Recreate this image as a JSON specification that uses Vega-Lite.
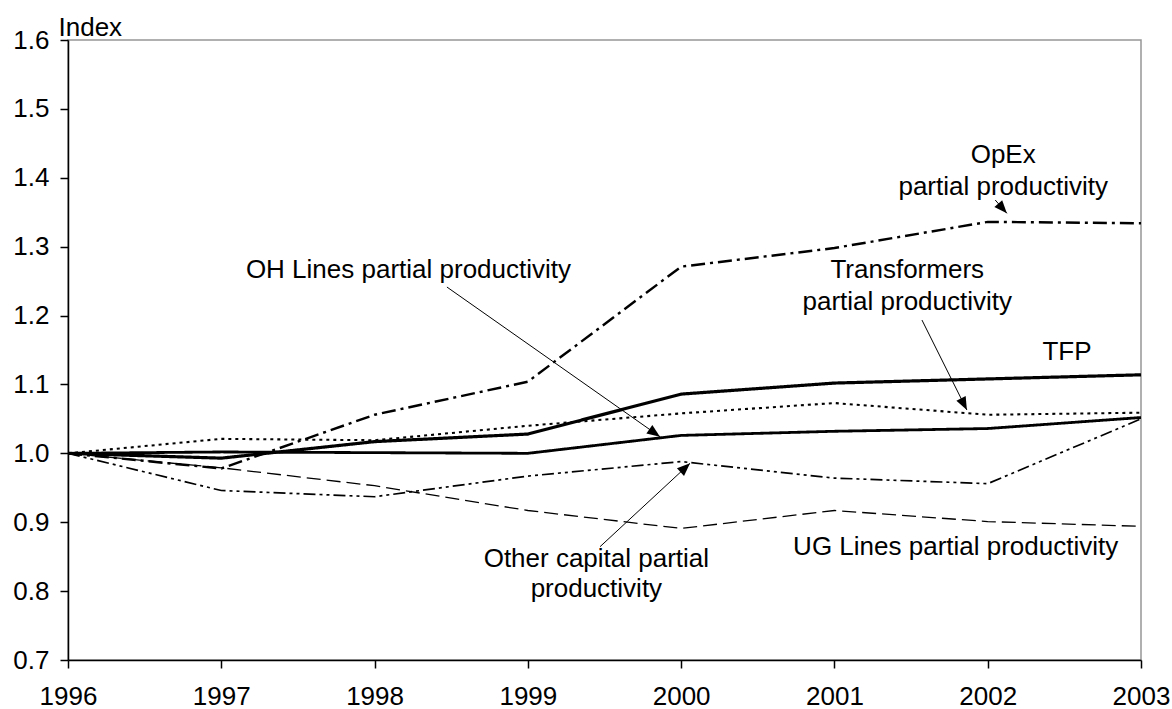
{
  "$schema": "https://vega.github.io/schema/vega-lite/v6.json",
  "width": 1073,
  "height": 620,
  "autosize": {"type": "none"},
  "padding": {"left": 68, "top": 40, "right": 31, "bottom": 49},
  "background": "white",
  "config": {
    "view": {"stroke": "#969696", "strokeWidth": 1.5},
    "font": "Liberation Sans",
    "axis": {
      "labelFont": "Liberation Sans",
      "labelFontSize": 26,
      "labelColor": "black",
      "domainColor": "black",
      "domainWidth": 1.5,
      "tickColor": "black",
      "tickWidth": 1.5,
      "tickSize": 8,
      "grid": false
    }
  },
  "datasets": {
    "series": [
      {"year": 1996, "series": "TFP", "value": 1.000},
      {"year": 1997, "series": "TFP", "value": 0.993},
      {"year": 1998, "series": "TFP", "value": 1.017},
      {"year": 1999, "series": "TFP", "value": 1.028},
      {"year": 2000, "series": "TFP", "value": 1.086},
      {"year": 2001, "series": "TFP", "value": 1.102},
      {"year": 2002, "series": "TFP", "value": 1.108},
      {"year": 2003, "series": "TFP", "value": 1.114},
      {"year": 1996, "series": "OH Lines", "value": 1.000},
      {"year": 1997, "series": "OH Lines", "value": 1.002},
      {"year": 1998, "series": "OH Lines", "value": 1.001},
      {"year": 1999, "series": "OH Lines", "value": 1.000},
      {"year": 2000, "series": "OH Lines", "value": 1.026},
      {"year": 2001, "series": "OH Lines", "value": 1.032},
      {"year": 2002, "series": "OH Lines", "value": 1.036},
      {"year": 2003, "series": "OH Lines", "value": 1.052},
      {"year": 1996, "series": "OpEx", "value": 1.000},
      {"year": 1997, "series": "OpEx", "value": 0.978},
      {"year": 1998, "series": "OpEx", "value": 1.056},
      {"year": 1999, "series": "OpEx", "value": 1.104},
      {"year": 2000, "series": "OpEx", "value": 1.271},
      {"year": 2001, "series": "OpEx", "value": 1.298},
      {"year": 2002, "series": "OpEx", "value": 1.336},
      {"year": 2003, "series": "OpEx", "value": 1.334},
      {"year": 1996, "series": "Transformers", "value": 1.000},
      {"year": 1997, "series": "Transformers", "value": 1.021},
      {"year": 1998, "series": "Transformers", "value": 1.019},
      {"year": 1999, "series": "Transformers", "value": 1.040},
      {"year": 2000, "series": "Transformers", "value": 1.058},
      {"year": 2001, "series": "Transformers", "value": 1.073},
      {"year": 2002, "series": "Transformers", "value": 1.056},
      {"year": 2003, "series": "Transformers", "value": 1.059},
      {"year": 1996, "series": "Other capital", "value": 1.000},
      {"year": 1997, "series": "Other capital", "value": 0.946},
      {"year": 1998, "series": "Other capital", "value": 0.937},
      {"year": 1999, "series": "Other capital", "value": 0.967},
      {"year": 2000, "series": "Other capital", "value": 0.988},
      {"year": 2001, "series": "Other capital", "value": 0.964},
      {"year": 2002, "series": "Other capital", "value": 0.956},
      {"year": 2003, "series": "Other capital", "value": 1.050},
      {"year": 1996, "series": "UG Lines", "value": 1.000},
      {"year": 1997, "series": "UG Lines", "value": 0.979},
      {"year": 1998, "series": "UG Lines", "value": 0.953},
      {"year": 1999, "series": "UG Lines", "value": 0.917},
      {"year": 2000, "series": "UG Lines", "value": 0.891},
      {"year": 2001, "series": "UG Lines", "value": 0.917},
      {"year": 2002, "series": "UG Lines", "value": 0.901},
      {"year": 2003, "series": "UG Lines", "value": 0.894}
    ],
    "labels": [
      {"label": "OH Lines partial productivity", "x": 1998.221, "y": 1.254},
      {"label": "OpEx", "x": 2002.101, "y": 1.421},
      {"label": "partial productivity", "x": 2002.101, "y": 1.375},
      {"label": "Transformers", "x": 2001.475, "y": 1.254},
      {"label": "partial productivity", "x": 2001.475, "y": 1.208},
      {"label": "TFP", "x": 2002.517, "y": 1.1355},
      {"label": "Other capital partial", "x": 1999.447, "y": 0.835},
      {"label": "productivity", "x": 1999.447, "y": 0.791},
      {"label": "UG Lines partial productivity", "x": 2001.791, "y": 0.852}
    ],
    "arrows": [
      {"arrow": "OH", "x": 1998.472, "y": 1.2414, "x2": 1999.862, "y2": 1.0241},
      {"arrow": "OpEx", "x": 2002.049, "y": 1.3677, "x2": 2002.125, "y2": 1.3484},
      {"arrow": "Transformers", "x": 2001.571, "y": 1.1935, "x2": 2001.864, "y2": 1.0629},
      {"arrow": "Other", "x": 1999.471, "y": 0.8645, "x2": 2000.058, "y2": 0.9855}
    ]
  },
  "layer": [
    {
      "data": {"name": "series"},
      "mark": {"type": "line", "color": "black", "clip": true},
      "encoding": {
        "x": {
          "field": "year", "type": "quantitative",
          "scale": {"domain": [1996, 2003], "nice": false, "zero": false},
          "axis": {"title": null, "values": [1996, 1997, 1998, 1999, 2000, 2001, 2002, 2003], "format": "d", "labelFlush": false, "labelPadding": 15, "labelOverlap": false}
        },
        "y": {
          "field": "value", "type": "quantitative",
          "scale": {"domain": [0.7, 1.6], "nice": false, "zero": false},
          "axis": {
            "title": "Index", "titleAngle": 0, "titleAlign": "left", "titleBaseline": "alphabetic",
            "titleX": -10, "titleY": -5, "titleFont": "Liberation Sans", "titleFontSize": 26, "titleFontWeight": "normal", "titleColor": "black",
            "values": [0.7, 0.8, 0.9, 1.0, 1.1, 1.2, 1.3, 1.4, 1.5, 1.6], "format": ".1f", "labelPadding": 11, "labelOverlap": false
          }
        },
        "detail": {"field": "series"},
        "strokeDash": {
          "field": "series", "type": "nominal", "legend": null,
          "scale": {
            "domain": ["TFP", "OH Lines", "OpEx", "Transformers", "Other capital", "UG Lines"],
            "range": [[1, 0], [1, 0], [14, 5, 3, 5], [3, 4], [12, 4, 3, 4, 3, 4], [14, 6]]
          }
        },
        "strokeWidth": {
          "field": "series", "type": "nominal", "legend": null,
          "scale": {
            "domain": ["TFP", "OH Lines", "OpEx", "Transformers", "Other capital", "UG Lines"],
            "range": [3.2, 1.3, 1.2, 1.3, 1.2, 1.2]
          }
        }
      }
    },
    {
      "data": {"name": "arrows"},
      "mark": {"type": "rule", "color": "black", "strokeWidth": 1},
      "encoding": {
        "x": {"field": "x", "type": "quantitative"},
        "y": {"field": "y", "type": "quantitative"},
        "x2": {"field": "x2"},
        "y2": {"field": "y2"}
      }
    },
    {
      "data": {"name": "arrows"},
      "transform": [{"filter": "datum.arrow === 'OH'"}],
      "mark": {"type": "point", "shape": "M0,0L-0.4,1L0.4,1Z", "filled": true, "color": "black", "opacity": 1, "size": 676, "angle": 125.1},
      "encoding": {"x": {"field": "x2", "type": "quantitative"}, "y": {"field": "y2", "type": "quantitative"}}
    },
    {
      "data": {"name": "arrows"},
      "transform": [{"filter": "datum.arrow === 'OpEx'"}],
      "mark": {"type": "point", "shape": "M0,0L-0.4,1L0.4,1Z", "filled": true, "color": "black", "opacity": 1, "size": 676, "angle": 138.7},
      "encoding": {"x": {"field": "x2", "type": "quantitative"}, "y": {"field": "y2", "type": "quantitative"}}
    },
    {
      "data": {"name": "arrows"},
      "transform": [{"filter": "datum.arrow === 'Transformers'"}],
      "mark": {"type": "point", "shape": "M0,0L-0.4,1L0.4,1Z", "filled": true, "color": "black", "opacity": 1, "size": 676, "angle": 153.4},
      "encoding": {"x": {"field": "x2", "type": "quantitative"}, "y": {"field": "y2", "type": "quantitative"}}
    },
    {
      "data": {"name": "arrows"},
      "transform": [{"filter": "datum.arrow === 'Other'"}],
      "mark": {"type": "point", "shape": "M0,0L-0.4,1L0.4,1Z", "filled": true, "color": "black", "opacity": 1, "size": 676, "angle": 47.2},
      "encoding": {"x": {"field": "x2", "type": "quantitative"}, "y": {"field": "y2", "type": "quantitative"}}
    },
    {
      "data": {"name": "labels"},
      "mark": {"type": "text", "font": "Liberation Sans", "fontSize": 26, "color": "black", "align": "center", "baseline": "alphabetic"},
      "encoding": {
        "x": {"field": "x", "type": "quantitative"},
        "y": {"field": "y", "type": "quantitative"},
        "text": {"field": "label"}
      }
    }
  ]
}
